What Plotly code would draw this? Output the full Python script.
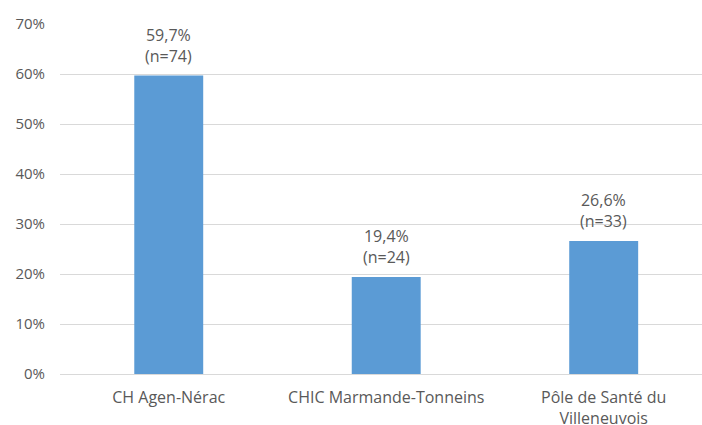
import plotly.graph_objects as go

categories = ["CH Agen-Nérac", "CHIC Marmande-Tonneins", "Pôle de Santé du<br>Villeneuvois"]
percent_values = [59.7, 19.4, 26.6]
counts = [74, 24, 33]
y_ticks = [0, 10, 20, 30, 40, 50, 60, 70]

font_family = "Open Sans, Lato, sans-serif"
grey = "#595959"

fig = go.Figure(go.Bar(
    x=categories,
    y=percent_values,
    width=0.317,
    marker=dict(color="#5B9BD5", line=dict(width=0)),
    hoverinfo="skip",
))

for cat, val, n in zip(categories, percent_values, counts):
    fig.add_annotation(
        x=cat, y=val,
        text=f"{val:.1f}%".replace(".", ",") + f"<br>(n={n})",
        showarrow=False, yanchor="bottom", yshift=7,
        font=dict(family=font_family, size=16, color=grey),
    )

fig.update_layout(
    width=702, height=425,
    margin=dict(l=60, r=0, t=24, b=51),
    paper_bgcolor="white", plot_bgcolor="white",
    showlegend=False,
    xaxis=dict(
        range=[-0.5, 2.452],
        showgrid=False,
        showline=False,
        automargin=False,
        tickfont=dict(family=font_family, size=16, color=grey),
        ticks="", ticklabelstandoff=12,
    ),
    yaxis=dict(
        range=[0, 70],
        tickvals=y_ticks,
        ticktext=[f"{v}%" for v in y_ticks],
        showgrid=True, gridcolor="#d9d9d9", gridwidth=1,
        zeroline=True, zerolinecolor="#d9d9d9", zerolinewidth=1,
        showline=False,
        automargin=False,
        tickfont=dict(family=font_family, size=15, color=grey),
        ticks="", ticklabelstandoff=14,
    ),
)

fig.write_html(
    "out.html",
    config={"displayModeBar": False},
    post_script="document.body.style.margin='0';document.body.style.overflow='hidden';",
)
